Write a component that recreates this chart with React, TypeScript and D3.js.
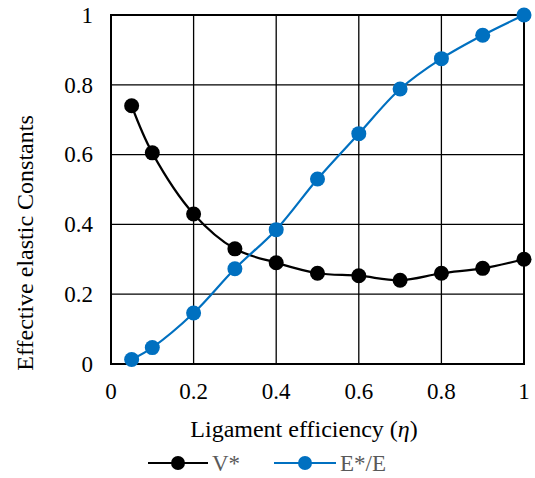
import React from "react";
import * as d3 from "d3";

const etaValues = [0.05, 0.1, 0.2, 0.3, 0.4, 0.5, 0.6, 0.7, 0.8, 0.9, 1];
const vStar = [0.74, 0.605, 0.43, 0.33, 0.29, 0.26, 0.253, 0.24, 0.26, 0.274, 0.3];
const eRatio = [0.013, 0.047, 0.146, 0.273, 0.385, 0.53, 0.66, 0.788, 0.875, 0.942, 1];
const tickValues = [0, 0.2, 0.4, 0.6, 0.8, 1];
const tickLabels = ["0", "0.2", "0.4", "0.6", "0.8", "1"];

const series = [
  { name: "V*", values: vStar, color: "#000000" },
  { name: "E*/E", values: eRatio, color: "#0070C0" }
];

const W = 535;
const H = 478;
const margin = { left: 111, right: 11, top: 15, bottom: 114 };
const font = "Liberation Serif, Times New Roman, serif";

export default function App() {
  // Scales
  const x = d3.scaleLinear().domain([0, 1]).range([margin.left, W - margin.right]);
  const y = d3.scaleLinear().domain([0, 1]).range([H - margin.bottom, margin.top]);

  const line = d3
    .line<number>()
    .x((_, i) => x(etaValues[i]))
    .y(v => y(v))
    .curve(d3.curveCatmullRom.alpha(0.5));

  const legendItems = [
    { name: "V*", color: "#000000", x0: 148, x1: 208 },
    { name: "E*/E", color: "#0070C0", x0: 274, x1: 336 }
  ];

  return (
    <svg
      width={W}
      height={H}
      style={{ position: "absolute", left: 0, top: 0, background: "#fff", fontFamily: font }}
    >
      {/* grid */}
      {tickValues.map(t => (
        <line key={"gx" + t} x1={x(t)} x2={x(t)} y1={y(0)} y2={y(1)} stroke="#000" strokeWidth={1.3} />
      ))}
      {tickValues.map(t => (
        <line key={"gy" + t} x1={x(0)} x2={x(1)} y1={y(t)} y2={y(t)} stroke="#000" strokeWidth={1.3} />
      ))}
      <rect
        x={x(0)}
        y={y(1)}
        width={x(1) - x(0)}
        height={y(0) - y(1)}
        fill="none"
        stroke="#000"
        strokeWidth={2}
      />

      {/* tick labels */}
      {tickValues.map((t, i) => (
        <text key={"tx" + t} x={x(t)} y={399} textAnchor="middle" fontSize={23} fill="#000" style={{ fontFamily: font }}>
          {tickLabels[i]}
        </text>
      ))}
      {tickValues.map((t, i) => (
        <text key={"ty" + t} x={93} y={y(t)} dy="0.34em" textAnchor="end" fontSize={23} fill="#000" style={{ fontFamily: font }}>
          {tickLabels[i]}
        </text>
      ))}

      {/* axis titles */}
      <text x={304} y={437} textAnchor="middle" fontSize={24} fill="#000" style={{ fontFamily: font }}>
        Ligament efficiency (<tspan fontStyle="italic">η</tspan>)
      </text>
      <text
        transform={`translate(33, 243) rotate(-90)`}
        textAnchor="middle"
        fontSize={24}
        fill="#000"
        style={{ fontFamily: font }}
      >
        Effective elastic Constants
      </text>

      {/* series */}
      {series.map(s => (
        <g key={s.name}>
          <path d={line(s.values) || ""} fill="none" stroke={s.color} strokeWidth={2.2} />
          {s.values.map((v, i) => (
            <circle key={i} cx={x(etaValues[i])} cy={y(v)} r={7.5} fill={s.color} />
          ))}
        </g>
      ))}

      {/* legend */}
      {legendItems.map(l => (
        <g key={l.name}>
          <line x1={l.x0} x2={l.x1} y1={463} y2={463} stroke={l.color} strokeWidth={2.2} />
          <circle cx={(l.x0 + l.x1) / 2} cy={463} r={7} fill={l.color} />
          <text x={l.x1 + 4} y={471} fontSize={23} fill="#595959" style={{ fontFamily: font }}>
            {l.name}
          </text>
        </g>
      ))}
    </svg>
  );
}
